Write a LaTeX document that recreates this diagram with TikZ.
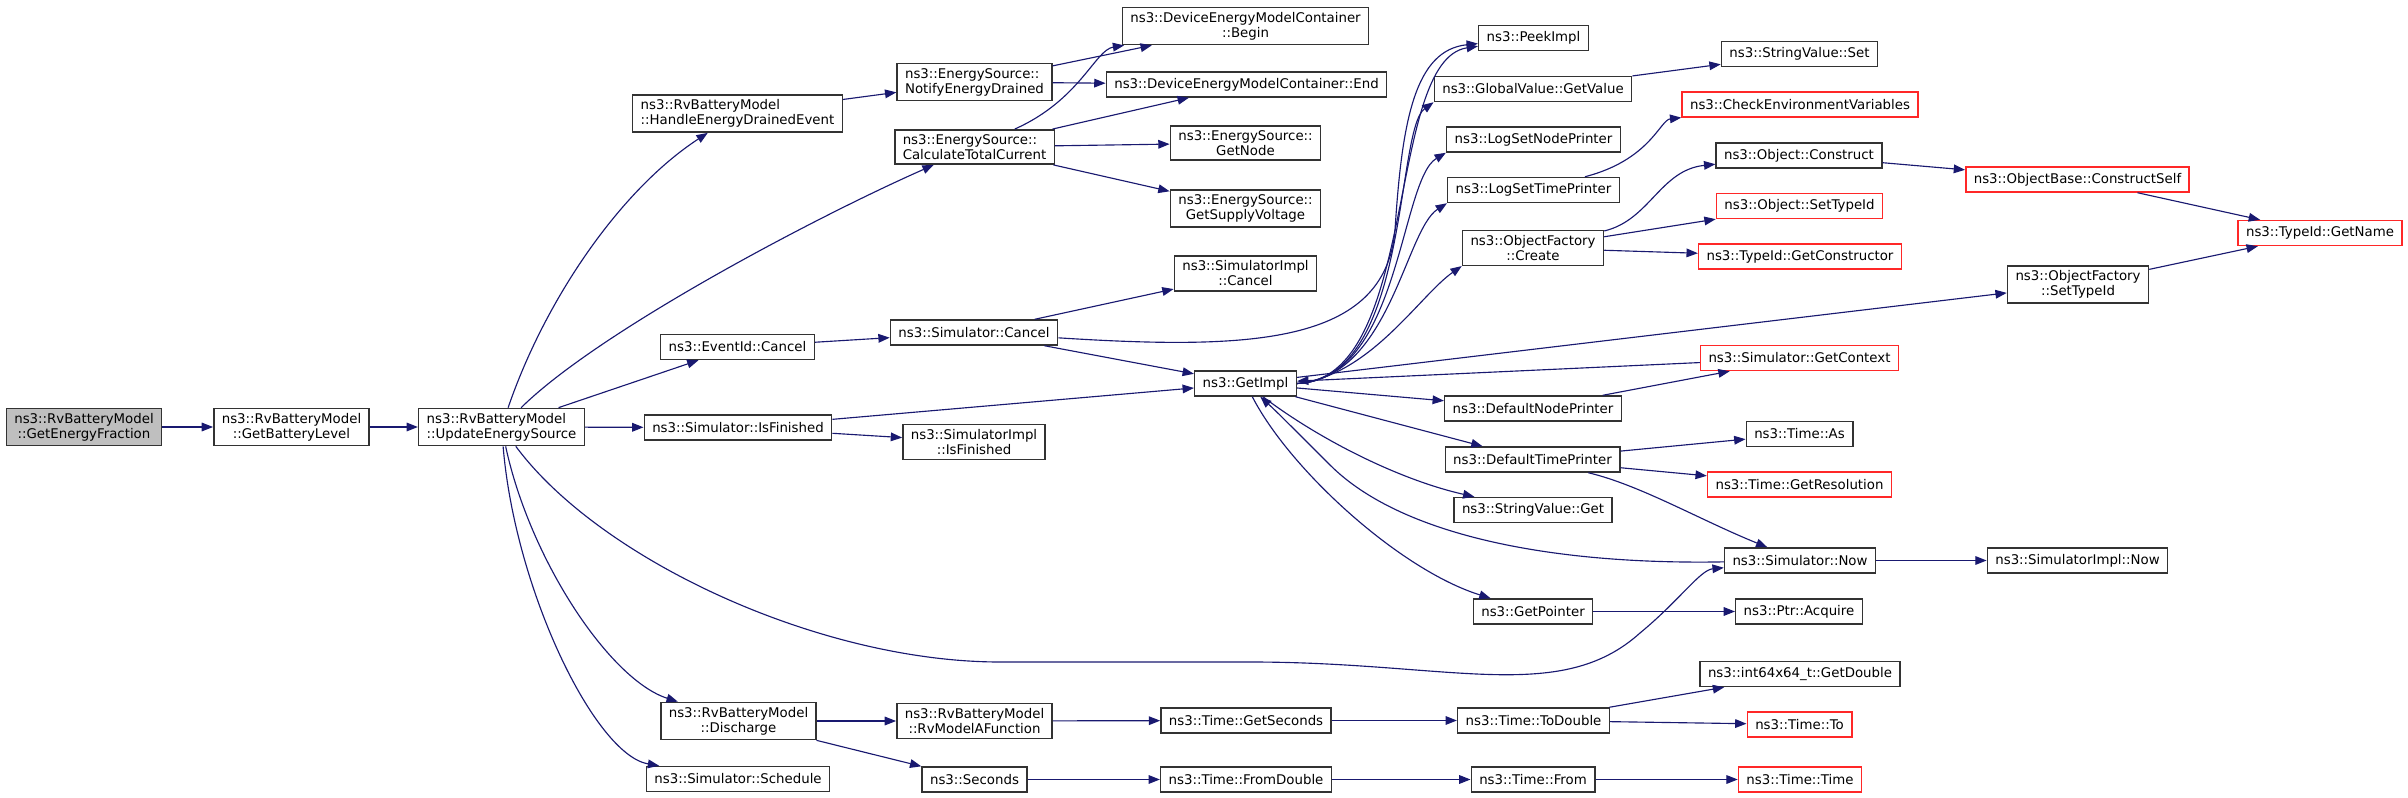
\documentclass[tikz,border=0pt]{standalone}
\usepackage{fontspec}
\setmainfont{DejaVu Sans}
\usetikzlibrary{positioning, arrows.meta}
\definecolor{edgeblue}{RGB}{25,25,112}
\definecolor{boxred}{RGB}{255,40,40}
\definecolor{boxgrey}{RGB}{191,191,191}

\begin{document}
\begin{tikzpicture}[x=0.75pt,y=-0.75pt,
    every node/.style={font=\fontsize{10}{11.25}\selectfont},
    func/.style={draw=black!80,line width=1.1pt,fill=white,inner xsep=6pt,inner ysep=3.5pt,minimum height=18.75pt},
    funcred/.style={func,draw=boxred},
    funcroot/.style={func,fill=boxgrey},
    call/.style={draw=edgeblue,line width=0.85pt,-{Triangle[length=8.5pt,width=6.5pt]}}]
        \useasboundingbox (0,0) rectangle (2408,798);
        % 第0-2列
        \node[funcroot,align=center] (root) at (84,427) {ns3::RvBatteryModel\\::GetEnergyFraction};
        \node[func,align=center] (batlevel) at (291.5,427) {ns3::RvBatteryModel\\::GetBatteryLevel};
        \node[func,align=left] (update) at (501.5,427) {ns3::RvBatteryModel\\::UpdateEnergySource};
        % 第3列
        \node[func,align=left] (handle) at (737.5,113.5) {ns3::RvBatteryModel\\::HandleEnergyDrainedEvent};
        \node[func] (evcancel) at (737.5,347) {ns3::EventId::Cancel};
        \node[func] (isfinished) at (738,427.5) {ns3::Simulator::IsFinished};
        \node[func,align=center] (discharge) at (738.5,721) {ns3::RvBatteryModel\\::Discharge};
        \node[func] (schedule) at (738,779) {ns3::Simulator::Schedule};
        % 第4列
        \node[func,align=left] (notify) at (974.5,82) {ns3::EnergySource::\\NotifyEnergyDrained};
        \node[func,align=left] (calccur) at (974.5,147) {ns3::EnergySource::\\CalculateTotalCurrent};
        \node[func] (simcancel) at (974,332.5) {ns3::Simulator::Cancel};
        \node[func,align=center] (implisfinished) at (974,442) {ns3::SimulatorImpl\\::IsFinished};
        \node[func,align=center] (rvmodel) at (974.5,721) {ns3::RvBatteryModel\\::RvModelAFunction};
        \node[func] (seconds) at (974.5,779.5) {ns3::Seconds};
        % 第5列
        \node[func,align=center] (cbegin) at (1245.5,26) {ns3::DeviceEnergyModelContainer\\::Begin};
        \node[func] (cend) at (1246.5,84.5) {ns3::DeviceEnergyModelContainer::End};
        \node[func,align=center] (getnode) at (1245.5,143) {ns3::EnergySource::\\GetNode};
        \node[func,align=center] (supply) at (1245.5,208.5) {ns3::EnergySource::\\GetSupplyVoltage};
        \node[func,align=center] (implcancel) at (1245.5,273.5) {ns3::SimulatorImpl\\::Cancel};
        \node[func] (getimpl) at (1245.5,383.5) {ns3::GetImpl};
        \node[func] (getseconds) at (1246,720.5) {ns3::Time::GetSeconds};
        \node[func] (fromdouble) at (1246,779.5) {ns3::Time::FromDouble};
        % 第6列
        \node[func] (peekimpl) at (1533.5,38) {ns3::PeekImpl};
        \node[func] (getvalue) at (1533,89) {ns3::GlobalValue::GetValue};
        \node[func] (lognode) at (1533.5,139.5) {ns3::LogSetNodePrinter};
        \node[func] (logtime) at (1533.5,190) {ns3::LogSetTimePrinter};
        \node[func,align=center] (create) at (1533,248) {ns3::ObjectFactory\\::Create};
        \node[func] (defnode) at (1533,408.5) {ns3::DefaultNodePrinter};
        \node[func] (deftime) at (1532.5,459.5) {ns3::DefaultTimePrinter};
        \node[func] (svget) at (1533,510) {ns3::StringValue::Get};
        \node[func] (getpointer) at (1533,611.5) {ns3::GetPointer};
        \node[func] (todouble) at (1533.5,720.5) {ns3::Time::ToDouble};
        \node[func] (timefrom) at (1533,779.5) {ns3::Time::From};
        % 第7列
        \node[func] (svset) at (1799.5,54) {ns3::StringValue::Set};
        \node[funcred] (checkenv) at (1800,104.5) {ns3::CheckEnvironmentVariables};
        \node[func] (construct) at (1799,155.5) {ns3::Object::Construct};
        \node[funcred] (objsettype) at (1799.5,206) {ns3::Object::SetTypeId};
        \node[funcred] (getctor) at (1800,256.5) {ns3::TypeId::GetConstructor};
        \node[funcred] (getcontext) at (1799.5,358) {ns3::Simulator::GetContext};
        \node[func] (timeas) at (1799.5,434) {ns3::Time::As};
        \node[funcred] (getres) at (1799.5,484.5) {ns3::Time::GetResolution};
        \node[func] (simnow) at (1800,560.5) {ns3::Simulator::Now};
        \node[func] (acquire) at (1799,611.5) {ns3::Ptr::Acquire};
        \node[func] (getdouble) at (1800,674) {ns3::int64x64\_t::GetDouble};
        \node[funcred] (timeto) at (1799.5,724.5) {ns3::Time::To};
        \node[funcred] (timetime) at (1800,779.5) {ns3::Time::Time};
        % 第8-9列
        \node[funcred] (constructself) at (2077.5,179.5) {ns3::ObjectBase::ConstructSelf};
        \node[func,align=center] (facsettype) at (2078,284.5) {ns3::ObjectFactory\\::SetTypeId};
        \node[func] (implnow) at (2077.5,560.5) {ns3::SimulatorImpl::Now};
        \node[funcred] (getname) at (2320,233) {ns3::TypeId::GetName};

        % 直线调用
        \foreach \a/\b in {root/batlevel, batlevel/update, update/evcancel, update/isfinished,
                handle/notify, notify/cbegin, notify/cend, calccur/cend, calccur/getnode, calccur/supply,
                evcancel/simcancel, simcancel/implcancel, simcancel/getimpl, isfinished/getimpl,
                isfinished/implisfinished, discharge/rvmodel, discharge/seconds, rvmodel/getseconds,
                getseconds/todouble, seconds/fromdouble, fromdouble/timefrom, timefrom/timetime,
                todouble/getdouble, todouble/timeto, getimpl/facsettype, getcontext/getimpl,
                getimpl/defnode, getimpl/deftime, defnode/getcontext, deftime/timeas, deftime/getres,
                getpointer/acquire, simnow/implnow, getvalue/svset, create/objsettype, create/getctor,
                construct/constructself, constructself/getname, facsettype/getname}
            \draw[call] (\a) -- (\b);

        % 曲线调用
        \draw[call] (update) .. controls (545,300) and (620,190) .. (handle);
        \draw[call] (update) .. controls (600,330) and (820,215) .. (calccur);
        \draw[call] (update) .. controls (600,560) and (820,662) .. (1000,662) -- (1250,662)
            .. controls (1450,662) and (1560,705) .. (1640,633) .. controls (1680,600) and (1700,570) .. (simnow);
        \draw[call] (update) .. controls (530,560) and (610,680) .. (discharge);
        \draw[call] (update) .. controls (515,590) and (595,755) .. (schedule);
        \draw[call] (calccur) .. controls (1080,100) and (1095,50) .. (cbegin);
        \draw[call] (simcancel) .. controls (1250,350) and (1385,345) .. (1395,230)
            .. controls (1402,120) and (1415,50) .. (peekimpl);
        \draw[call] (getimpl.east) .. controls (1420,380) and (1385,60) .. (peekimpl);
        \draw[call] (getimpl.east) .. controls (1410,380) and (1395,130) .. (getvalue.south west);
        \draw[call] (getimpl.east) .. controls (1400,380) and (1400,180) .. (lognode.south west);
        \draw[call] (getimpl.east) .. controls (1390,378) and (1405,230) .. (logtime.south west);
        \draw[call] (getimpl.east) .. controls (1370,376) and (1420,295) .. (create.south west);
        \draw[call] (getimpl) .. controls (1320,440) and (1400,480) .. (svget);
        \draw[call] (getimpl) .. controls (1290,470) and (1400,570) .. (getpointer);
        \draw[call] (simnow) .. controls (1550,565) and (1400,535) .. (1330,465)
            .. controls (1295,430) and (1275,410) .. (getimpl);
        \draw[call] (deftime) .. controls (1640,485) and (1700,520) .. (simnow);
        \draw[call] (create) .. controls (1650,220) and (1660,170) .. (construct);
        \draw[call] (logtime) .. controls (1650,160) and (1660,120) .. (checkenv);
\end{tikzpicture}
\end{document}
